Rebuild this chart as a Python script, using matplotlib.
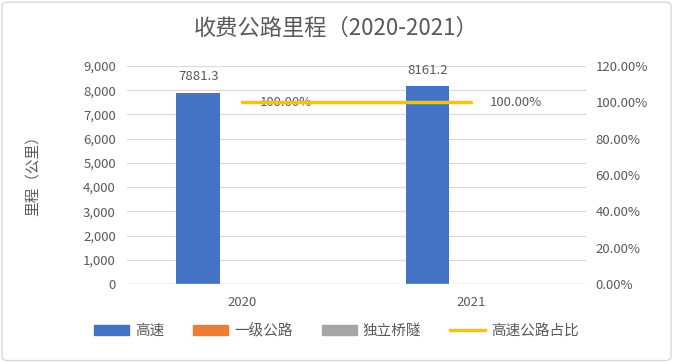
import matplotlib
matplotlib.use("Agg")
import matplotlib.pyplot as plt
import numpy as np
from matplotlib.patches import FancyBboxPatch
from matplotlib.lines import Line2D
from matplotlib.patches import Patch

plt.rcParams['font.family'] = ['Noto Sans CJK SC', 'DejaVu Sans']

# ============================================================
# 数据
# ============================================================
years = ["2020", "2021"]
gaosu = [7881.3, 8161.2]        # 高速
yiji = [0, 0]                   # 一级公路
qiaosui = [0, 0]                # 独立桥隧
ratio = [1.0, 1.0]              # 高速公路占比

TEXT = '#595959'
GRID = '#D9D9D9'
colors = {'高速': '#4472C4', '一级公路': '#ED7D31', '独立桥隧': '#A5A5A5', '占比': '#FFC000'}

fig = plt.figure(figsize=(6.73, 3.62), dpi=100)
# 外框
fig.patches.append(FancyBboxPatch((0.003, 0.004), 0.994, 0.99, boxstyle="round,pad=0,rounding_size=0.01",
                                  transform=fig.transFigure, fill=False, edgecolor='#D9D9D9', lw=1))

ax = fig.add_axes([127 / 673, 1 - 284 / 362, (586 - 127) / 673, (284 - 66) / 362])
x = np.arange(len(years))
w = 0.19
ax.bar(x - w, gaosu, w, color=colors['高速'], zorder=3)
ax.bar(x, yiji, w, color=colors['一级公路'], zorder=3)
ax.bar(x + w, qiaosui, w, color=colors['独立桥隧'], zorder=3)
for xi, v in zip(x, gaosu):
    ax.annotate(f"{v}", (xi - w, v), textcoords="offset points", xytext=(0, 7),
                ha='center', va='bottom', fontsize=9.5, color=TEXT)

ax.set_xlim(-0.5, 1.5)
ax.set_ylim(0, 9000)
ax.set_yticks(np.arange(0, 9001, 1000))
ax.set_yticklabels([f"{v:,}" for v in range(0, 9001, 1000)], fontsize=9.5, color=TEXT)
ax.set_xticks(x)
ax.set_xticklabels(years, fontsize=9.5, color=TEXT)
ax.tick_params(length=0, pad=8)
ax.tick_params(axis='x', pad=9)
ax.grid(axis='y', color=GRID, lw=0.8, zorder=0)
for s in ax.spines.values():
    s.set_visible(False)
ax.axhline(0, color=GRID, lw=1, zorder=4)
ax.set_ylabel("里程（公里）", fontsize=10.5, color=TEXT)
ax.yaxis.set_label_coords(-0.19, 0.514)

ax2 = ax.twinx()
ax2.plot(x, ratio, color=colors['占比'], lw=2.5, solid_capstyle='round', zorder=5)
for xi, v in zip(x, ratio):
    ax2.annotate(f"{v * 100:.2f}%", (xi, v), textcoords="offset points", xytext=(13, 0),
                 ha='left', va='center', fontsize=9.5, color=TEXT)
ax2.set_ylim(0, 1.2)
ax2.set_yticks(np.arange(0, 1.21, 0.2))
ax2.set_yticklabels([f"{v * 100:.2f}%" for v in np.arange(0, 1.21, 0.2)], fontsize=9.5, color=TEXT)
ax2.tick_params(length=0, pad=7)
for s in ax2.spines.values():
    s.set_visible(False)

fig.text(0.5, 1 - 28 / 362, "收费公路里程（2020-2021）", ha='center', va='center', fontsize=16, color=TEXT)

handles = [Patch(color=colors['高速']), Patch(color=colors['一级公路']), Patch(color=colors['独立桥隧']),
           Line2D([0], [0], color=colors['占比'], lw=2.5)]
labels = ["高速", "一级公路", "独立桥隧", "高速公路占比"]
leg = fig.legend(handles, labels, loc='center', bbox_to_anchor=(0.5, 1 - 331 / 362), ncol=4, frameon=False,
                 fontsize=10.5, handlelength=2.4, handleheight=0.6, columnspacing=2.0, handletextpad=0.4)
for t in leg.get_texts():
    t.set_color(TEXT)

fig.savefig("out.png", dpi=100)
